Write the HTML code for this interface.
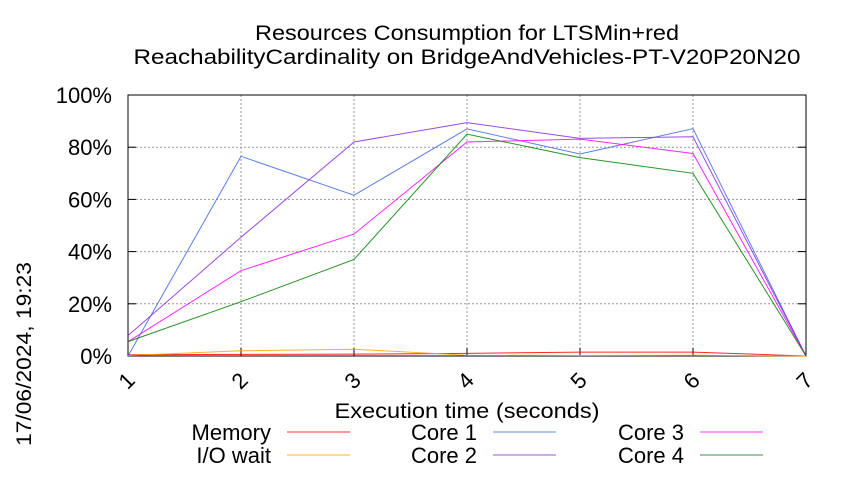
<!DOCTYPE html>
<html><head><meta charset="utf-8"><style>
body{margin:0;background:#fff;width:850px;height:475px;overflow:hidden;font-family:"Liberation Sans",sans-serif}
text{font-family:"Liberation Sans",sans-serif;fill:#000}
</style></head><body>
<svg id="chart" width="850" height="475" xmlns="http://www.w3.org/2000/svg">
<text x="467" y="40" font-size="21" text-anchor="middle" textLength="424" lengthAdjust="spacingAndGlyphs">Resources Consumption for LTSMin+red</text>
<text x="467" y="64" font-size="21" text-anchor="middle" textLength="667" lengthAdjust="spacingAndGlyphs">ReachabilityCardinality on BridgeAndVehicles-PT-V20P20N20</text>
<text transform="translate(31,446) rotate(-90)" font-size="21" textLength="184" lengthAdjust="spacingAndGlyphs">17/06/2024, 19:23</text>
<text x="467" y="418" font-size="21" text-anchor="middle" textLength="265" lengthAdjust="spacingAndGlyphs">Execution time (seconds)</text>
<g id="grid"></g><g id="series"></g><g id="legend"></g>
</svg>
<script>
const categories=[1,2,3,4,5,6,7];
const yTicks=[0,20,40,60,80,100];
const memory=[0.5,0.6,0.7,1.0,1.5,1.5,0];
const ioWait=[0.2,2.0,2.6,0.3,0.2,0.3,0];
const core1=[0,76.5,61.6,87,77.4,87.1,0];
const core2=[7.8,45.5,82,89.4,83.4,84,0];
const core3=[5.5,32.7,46.7,82,83.1,77.6,0];
const core4=[5.5,20.8,37,85,76,70,0];
const NS="http://www.w3.org/2000/svg";
const L=128,R=806,T=95,B=356;
const xs=v=>L+(v-1)*(R-L)/6;
const ys=v=>B-v*(B-T)/100;
function mk(tag,attrs,parent){const e=document.createElementNS(NS,tag);for(const k in attrs)e.setAttribute(k,attrs[k]);parent.appendChild(e);return e;}
const grid=document.getElementById('grid');
yTicks.forEach(t=>{
 const y=ys(t);
 if(t>0&&t<100){const g=mk('line',{x1:L,x2:R,y1:y,y2:y,stroke:'#999','stroke-dasharray':'2,2','stroke-width':1},grid);
 
 }
 const tk=mk('line',{x1:L,x2:L+8,y1:y,y2:y,stroke:'#000'},grid);
 
 
 const tk2=mk('line',{x1:R-8,x2:R,y1:y,y2:y,stroke:'#000'},grid);
 
 
 const lb=mk('text',{x:L-16,y:y+8,'font-size':22,'text-anchor':'end'},grid);
 lb.textContent=t+'%';
 
 
});
categories.forEach(c=>{
 const x=xs(c);
 if(c>1&&c<7){const g=mk('line',{x1:x,x2:x,y1:T,y2:B,stroke:'#999','stroke-dasharray':'2,2','stroke-width':1},grid);
 
 }
 const tk=mk('line',{x1:x,x2:x,y1:B-8,y2:B,stroke:'#000'},grid);
 
 
 const lb=mk('text',{x:0,y:0,'font-size':22,'text-anchor':'middle',transform:`translate(${x+4},${B+30}) rotate(-45)`},grid);
 lb.textContent=c;
 
 
});
const frame=mk('rect',{x:L,y:T,width:R-L,height:B-T,fill:'none',stroke:'#000','stroke-width':1},grid);


const series=[
 ['Memory',memory,'#ff0000','series-memory'],
 ['I/O wait',ioWait,'#ffa500','series-io-wait'],
 ['Core 1',core1,'#4169e1','series-core-1'],
 ['Core 2',core2,'#8a2be2','series-core-2'],
 ['Core 3',core3,'#ff00ff','series-core-3'],
 ['Core 4',core4,'#008000','series-core-4']];
const sg=document.getElementById('series');
series.forEach(s=>{
 const pts=s[1].map((v,i)=>xs(categories[i])+','+ys(v)).join(' ');
 const p=mk('polyline',{points:pts,fill:'none',stroke:s[2],'stroke-width':1,opacity:0.85},sg);
 
 
});
const lg=document.getElementById('legend');
const lpos=[[271,440],[271,463],[477,440],[477,463],[684,440],[684,463]];
series.forEach((s,i)=>{
 const [x,y]=lpos[i];
 const t=mk('text',{x:x,y:y,'font-size':22,'text-anchor':'end'},lg);
 t.textContent=s[0];
 
 
 const l=mk('line',{x1:x+16,x2:x+79,y1:y-8,y2:y-8,stroke:s[2],'stroke-width':1,opacity:0.8},lg);
 
 
});
</script>
</body></html>
